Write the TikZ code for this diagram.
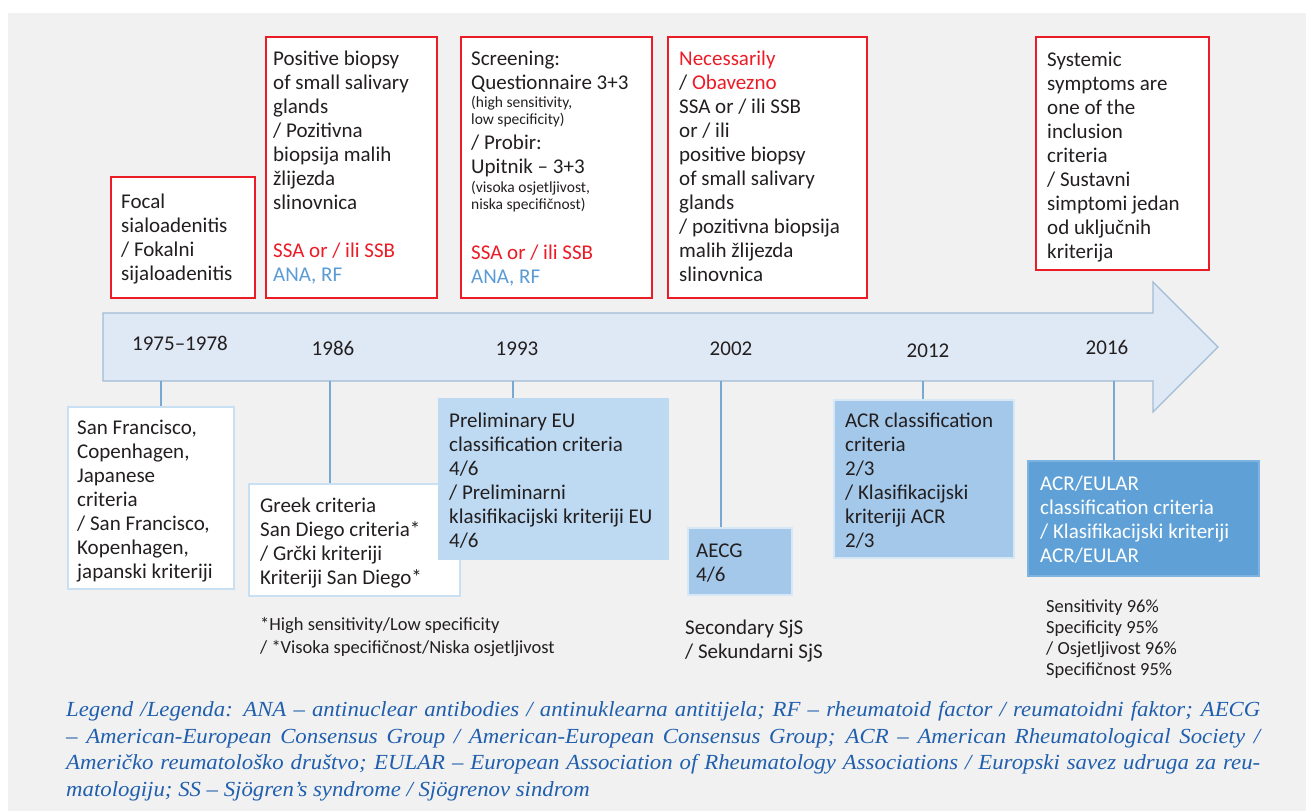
\documentclass[tikz,border=0pt]{standalone}
\usepackage{fontspec}
\setmainfont{Carlito}
\newfontfamily\legendfont[FakeStretch=1.06]{Liberation Serif}
\definecolor{bgc}{HTML}{F1F1F1}
\definecolor{redc}{HTML}{EC1C27}
\definecolor{anac}{HTML}{5B9BD5}
\definecolor{txtc}{HTML}{231F20}
\definecolor{arrfill}{HTML}{DFE9F5}
\definecolor{arrdraw}{HTML}{A2BCD6}
\definecolor{linec}{HTML}{7AA8D4}
\definecolor{paleb}{HTML}{C9DFF2}
\definecolor{boxc}{HTML}{BDDAF2}
\definecolor{boxd}{HTML}{A4C8EA}
\definecolor{boxdb}{HTML}{D6E7F6}
\definecolor{boxf}{HTML}{5FA1D7}
\definecolor{boxfb}{HTML}{7DB3E0}
\definecolor{legc}{HTML}{1F5FAD}
\newcommand\bodyfont{\fontsize{21}{24}\selectfont}
\newcommand\smallfnt{\fontsize{15.5}{17}\selectfont}
\newcommand\footfnt{\fontsize{18.5}{23}\selectfont}
\newcommand\sensfnt{\fontsize{18.5}{21.3}\selectfont}
\newcommand\legfnt{\legendfont\itshape\fontsize{21.5}{26.6}\selectfont}
\begin{document}
\begin{tikzpicture}[x=1pt,y=-1pt,
  redbox/.style={draw=redc,line width=1.5pt,fill=white,inner sep=0pt,anchor=north west},
  palebox/.style={draw=paleb,line width=1.5pt,fill=white,inner sep=0pt,anchor=north west},
  bluebox/.style={draw=#1,line width=1.5pt,inner sep=0pt,anchor=north west},
  tx/.style={inner sep=0pt,anchor=north west,align=left,font=\bodyfont,text=txtc,yshift=13.3pt,execute at begin node=\strut},
  txs/.style={inner sep=0pt,anchor=north west,align=left,font=\smallfnt,text=txtc,yshift=10.9pt,execute at begin node=\strut},
  year/.style={inner sep=0pt,anchor=base,font=\bodyfont,text=txtc},
  conn/.style={draw=linec,line width=1.2pt},
  legline/.style={inner sep=0pt,anchor=base west,font=\legfnt,text=legc}]
\useasboundingbox (0,0) rectangle (1306,811);
\fill[bgc] (8,13) rectangle (1306,811);
% timeline arrow
\filldraw[fill=arrfill,draw=arrdraw,line width=1.2pt,line join=miter]
  (103,313) -- (1153,313) -- (1153,282) -- (1218,347) -- (1153,412) -- (1153,381) -- (103,381) -- cycle;
% years
\node[year] (y1) at (180,350) {1975–1978};
\node[year] (y2) at (333,355) {1986};
\node[year] (y3) at (517,355) {1993};
\node[year] (y4) at (731,355) {2002};
\node[year] (y5) at (928,357) {2012};
\node[year] (y6) at (1107,354) {2016};
\coordinate (c1) at (161,381);
\coordinate (c2) at (330,381);
\coordinate (c3) at (513,381);
\coordinate (c4) at (721,381);
\coordinate (c5) at (923,381);
\coordinate (c6) at (1114,381);
% top boxes
\node[redbox,minimum width=144pt,minimum height=121pt] (b1) at (110,176) {};
\node[tx] (t1) at (121,207) {Focal\\sialoadenitis\\/ Fokalni\\sijaloadenitis};
\node[redbox,minimum width=171pt,minimum height=261pt] (b2) at (265,36) {};
\node[tx] (t2) at (273,64) {Positive biopsy\\of small salivary\\glands\\/ Pozitivna\\biopsija malih\\žlijezda\\slinovnica\\[24pt]\textcolor{redc}{SSA or / ili SSB}\\\textcolor{anac}{ANA, RF}};
\node[redbox,minimum width=191pt,minimum height=261pt] (b3) at (460,36) {};
\node[tx] (t3a) at (471,64) {Screening:\\Questionnaire 3+3};
\node[txs] (t3b) at (471,107) {(high sensitivity,\\low specificity)};
\node[tx] (t3c) at (471,148) {/ Probir:\\Upitnik – 3+3};
\node[txs] (t3d) at (471,192) {(visoka osjetljivost,\\niska specifičnost)};
\node[tx] (t3e) at (471,258) {\textcolor{redc}{SSA or / ili SSB}\\\textcolor{anac}{ANA, RF}};
\node[redbox,minimum width=199pt,minimum height=261pt] (b4) at (667,36) {};
\node[tx] (t4) at (679,64) {\textcolor{redc}{Necessarily}\\/ \textcolor{redc}{Obavezno}\\SSA or / ili SSB\\or / ili\\positive biopsy\\of small salivary\\glands\\/ pozitivna biopsija\\malih žlijezda\\slinovnica};
\node[redbox,minimum width=173pt,minimum height=233pt] (b5) at (1035,36) {};
\node[tx] (t5) at (1047,65) {Systemic\\symptoms are\\one of the\\inclusion\\criteria\\/ Sustavni\\simptomi jedan\\od uključnih\\kriterija};
% bottom boxes
\node[palebox,minimum width=166pt,minimum height=182pt] (bA) at (67,406) {};
\node[tx] (tA) at (77,433) {San Francisco,\\Copenhagen,\\Japanese\\criteria\\/ San Francisco,\\Kopenhagen,\\japanski kriteriji};
\node[palebox,minimum width=211pt,minimum height=112pt] (bB) at (248,483) {};
\node[tx] (tB) at (260,511) {Greek criteria\\San Diego criteria*\\/ Grčki kriteriji\\Kriteriji San Diego*};
\node[bluebox=boxc,fill=boxc,minimum width=229pt,minimum height=160pt] (bC) at (438,398) {};
\node[tx] (tC) at (449,426) {Preliminary EU\\classification criteria\\4/6\\/ Preliminarni\\klasifikacijski kriteriji EU\\4/6};
\node[bluebox=boxdb,fill=boxd,minimum width=104pt,minimum height=67pt] (bD) at (687,527) {};
\node[tx] (tD) at (696,557) {AECG\\4/6};
\node[bluebox=boxdb,fill=boxd,minimum width=180pt,minimum height=158pt] (bE) at (833,399) {};
\node[tx] (tE) at (845,426) {ACR classification\\criteria\\2/3\\/ Klasifikacijski\\kriteriji ACR\\2/3};
\node[bluebox=boxfb,fill=boxf,minimum width=231pt,minimum height=115pt] (bF) at (1027,460) {};
\node[tx,text=white] (tF) at (1040,489) {ACR/EULAR\\classification criteria\\/ Klasifikacijski kriteriji\\ACR/EULAR};
% connectors
\draw[conn] (c1) -- (c1 |- bA.north);
\draw[conn] (c2) -- (c2 |- bB.north);
\draw[conn] (c3) -- (c3 |- bC.north);
\draw[conn] (c4) -- (c4 |- bD.north);
\draw[conn] (c5) -- (c5 |- bE.north);
\draw[conn] (c6) -- (c6 |- bF.north);
% notes
\node[inner sep=0pt,anchor=north west,align=left,font=\footfnt,text=txtc,yshift=13.1pt,execute at begin node=\strut] (foot) at (260,630) {*High sensitivity/Low specificity\\/ *Visoka specifičnost/Niska osjetljivost};
\node[tx] (sec) at (685,633) {Secondary SjS\\/ Sekundarni SjS};
\node[inner sep=0pt,anchor=north west,align=left,font=\sensfnt,text=txtc,yshift=12.9pt,execute at begin node=\strut] (sens) at (1046,612) {Sensitivity 96\%\\Specificity 95\%\\/ Osjetljivost 96\%\\Specifičnost 95\%};
% legend
\node[legline] (l1) at (66,716) {\makebox[1194pt][s]{Legend /Legenda: ANA – antinuclear antibodies / antinuklearna antitijela; RF – rheumatoid factor / reumatoidni faktor; AECG}};
\node[legline] (l2) at (66,743) {\makebox[1194pt][s]{– American-European Consensus Group / American-European Consensus Group; ACR – American Rheumatological Society /}};
\node[legline] (l3) at (66,769) {\makebox[1194pt][s]{Američko reumatološko društvo; EULAR – European Association of Rheumatology Associations / Europski savez udruga za reu-}};
\node[legline] (l4) at (66,796) {matologiju; SS – Sjögren’s syndrome / Sjögrenov sindrom};
\end{tikzpicture}
\end{document}
